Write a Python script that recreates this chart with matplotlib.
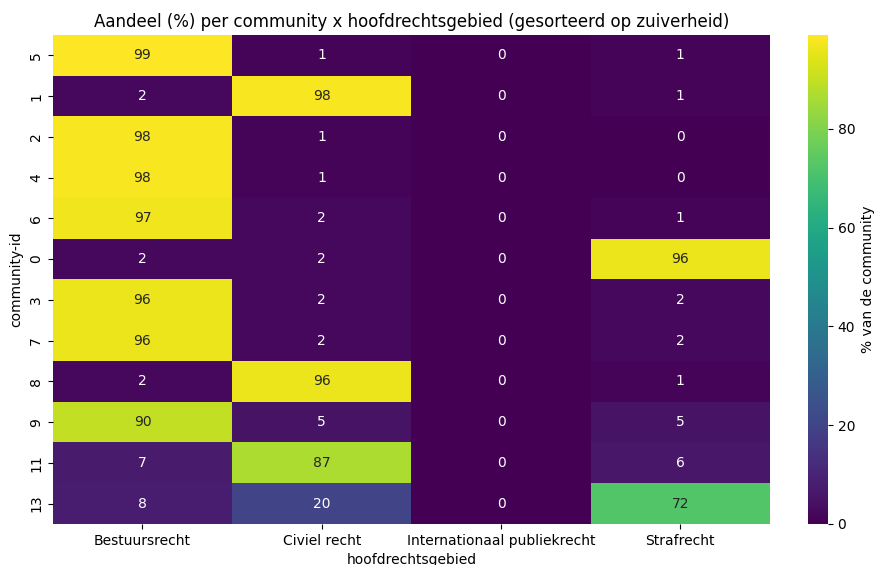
import matplotlib
matplotlib.use("Agg")
import matplotlib.pyplot as plt
import numpy as np
import pandas as pd
import seaborn as sns

communities = ["5", "1", "2", "4", "6", "0", "3", "7", "8", "9", "11", "13"]
gebieden = ["Bestuursrecht", "Civiel recht", "Internationaal publiekrecht", "Strafrecht"]

bestuursrecht = [99, 2, 98, 98, 97, 2, 96, 96, 2, 90, 7, 8]
civiel = [1, 98, 1, 1, 2, 2, 2, 2, 96, 5, 87, 20]
internationaal = [0, 0, 0, 0, 0, 0, 0, 0, 0, 0, 0, 0]
strafrecht = [1, 1, 0, 0, 1, 96, 2, 2, 1, 5, 6, 72]

df = pd.DataFrame(
    np.column_stack([bestuursrecht, civiel, internationaal, strafrecht]),
    index=communities, columns=gebieden)

fig = plt.figure(figsize=(8.8, 5.65), dpi=100)
ax = fig.add_axes([0.060, 0.0726, 0.815, 0.8655])
cax = fig.add_axes([0.918, 0.0726, 0.0227, 0.8655])
sns.heatmap(df, annot=True, fmt=".0f", cmap="viridis", ax=ax, cbar_ax=cax,
            cbar_kws={"label": "% van de community"})
ax.set_title("Aandeel (%) per community x hoofdrechtsgebied (gesorteerd op zuiverheid)")
ax.set_xlabel("hoofdrechtsgebied")
ax.set_ylabel("community-id")
plt.savefig("out.png")
